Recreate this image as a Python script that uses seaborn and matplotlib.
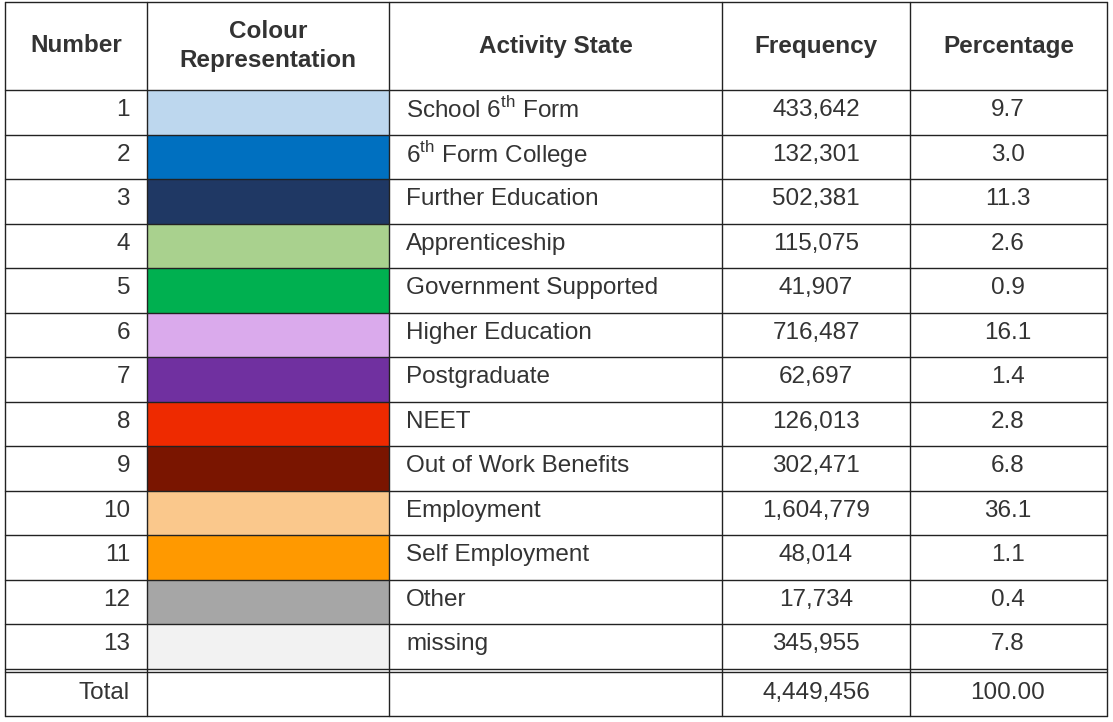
import matplotlib
matplotlib.use("Agg")
import matplotlib.pyplot as plt
import seaborn as sns
from matplotlib.patches import Rectangle

# table data
numbers = list(range(1, 14))
states = ["School 6$^{\\mathrm{th}}$ Form", "6$^{\\mathrm{th}}$ Form College", "Further Education",
          "Apprenticeship", "Government Supported", "Higher Education", "Postgraduate",
          "NEET", "Out of Work Benefits", "Employment", "Self Employment", "Other", "missing"]
frequency = ["433,642", "132,301", "502,381", "115,075", "41,907", "716,487", "62,697",
             "126,013", "302,471", "1,604,779", "48,014", "17,734", "345,955"]
percentage = ["9.7", "3.0", "11.3", "2.6", "0.9", "16.1", "1.4", "2.8", "6.8", "36.1",
              "1.1", "0.4", "7.8"]
colours = ["#BDD7EE", "#0070C0", "#1F3864", "#A9D18E", "#00B050", "#DAAAEC", "#7030A0",
           "#EE2A00", "#7A1500", "#FAC88C", "#FF9900", "#A6A6A6", "#F2F2F2"]
headers = ["Number", "Colour\nRepresentation", "Activity State", "Frequency", "Percentage"]
total_freq = "4,449,456"
total_pct = "100.00"

sns.set_theme(style="white")
plt.rcParams['font.family'] = ['Liberation Sans', 'DejaVu Sans']
plt.rcParams['mathtext.fontset'] = 'custom'
plt.rcParams['mathtext.rm'] = 'Liberation Sans'

fig = plt.figure(figsize=(11.13, 7.22), dpi=100)
ax = fig.add_axes([0, 0, 1, 1])
ax.set_xlim(0, 1113)
ax.set_ylim(722, 0)
ax.axis("off")

cols = [5, 147, 389, 722, 910, 1107]
top, head_bot, row_h = 2, 90, 44.5
fs = 17.5
lc = "#222222"

n = len(numbers)
body_bot = head_bot + n * row_h
bottom = 716

for i in range(n):
    y0 = head_bot + i * row_h
    ax.add_patch(Rectangle((cols[1], y0), cols[2] - cols[1], row_h, facecolor=colours[i], edgecolor="none"))
    yc = y0 + row_h / 2 - 2
    ax.text(130, yc, str(numbers[i]), ha="right", va="center", fontsize=fs, color="#333333")
    ax.text(406, yc, states[i], ha="left", va="center", fontsize=fs, color="#333333")
    ax.text(816, yc, frequency[i], ha="center", va="center", fontsize=fs, color="#333333")
    ax.text(1008, yc, percentage[i], ha="center", va="center", fontsize=fs, color="#333333")

hx = [(cols[0] + cols[1]) / 2, (cols[1] + cols[2]) / 2, (cols[2] + cols[3]) / 2,
      (cols[3] + cols[4]) / 2, (cols[4] + cols[5]) / 2]
for x, h in zip(hx, headers):
    ax.text(x, (top + head_bot) / 2, h, ha="center", va="center", fontsize=fs,
            fontweight="bold", color="#333333", linespacing=1.3)

ty = (body_bot + 3 + bottom) / 2 - 1
ax.text(130, ty, "Total", ha="right", va="center", fontsize=fs, color="#333333")
ax.text(816, ty, total_freq, ha="center", va="center", fontsize=fs, color="#333333")
ax.text(1008, ty, total_pct, ha="center", va="center", fontsize=fs, color="#333333")

# grid lines
for x in cols:
    ax.plot([x, x], [top, bottom], color=lc, lw=1)
for y in [top, head_bot] + [head_bot + i * row_h for i in range(1, n)] + [body_bot, body_bot + 3, bottom]:
    ax.plot([cols[0], cols[-1]], [y, y], color=lc, lw=1)

fig.savefig("out.png", dpi=100, facecolor="white")
